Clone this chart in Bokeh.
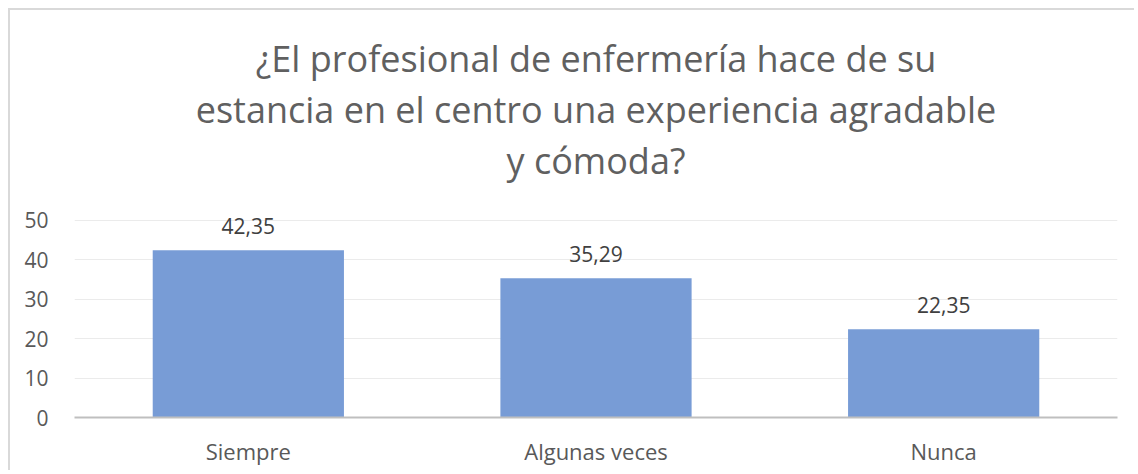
from bokeh.plotting import figure
from bokeh.models import FixedTicker, ColumnDataSource, Title, Range1d
from bokeh.embed import file_html
from bokeh.resources import INLINE
from bokeh.core.properties import value

categories = ["Siempre", "Algunas veces", "Nunca"]
values = [42.35, 35.29, 22.35]
labels = [f"{v:.2f}".replace(".", ",") for v in values]
y_ticks = [0, 10, 20, 30, 40, 50]
title_lines = [
    "¿El profesional de enfermería hace de su",
    "estancia en el centro una experiencia agradable",
    "y cómoda?",
]

FONT = "Open Sans"

src = ColumnDataSource(dict(cat=categories, val=values, lab=labels))

p = figure(
    x_range=categories, y_range=Range1d(0, 59),
    width=1126, height=462,
    output_backend="svg", toolbar_location=None,
    min_border_left=64, min_border_right=19,
    min_border_top=174, min_border_bottom=55,
)
p.styles = {"margin-left": "8px", "margin-top": "8px",
            "border-left": "2px solid #d9d9d9", "border-top": "2px solid #d9d9d9"}
p.outline_line_color = None

# add lines nearest-to-frame first
for line in reversed(title_lines):
    t = Title(text=line, align="center", text_font=FONT, text_font_size="36px",
              text_color="#606060", text_font_style="normal", text_line_height=1.04,
              standoff=0)
    p.add_layout(t, "above")

p.vbar(x="cat", top="val", width=0.55, source=src, fill_color="#789cd6", line_color=None)
p.text(x="cat", y="val", text="lab", source=src, y_offset=-24,
       text_align="center", text_baseline="middle",
       text_font=value(FONT), text_font_size="21px", text_color="#404040")

p.yaxis.ticker = FixedTicker(ticks=y_ticks)
p.yaxis.axis_line_color = None
p.yaxis.major_tick_line_color = None
p.yaxis.minor_tick_line_color = None
p.yaxis.major_label_text_font = FONT
p.yaxis.major_label_text_font_size = "21px"
p.yaxis.major_label_text_color = "#595959"
p.yaxis.major_label_standoff = 20

p.xaxis.axis_line_color = "#bfbfbf"
p.xaxis.axis_line_width = 2
p.xaxis.major_tick_line_color = None
p.xaxis.major_label_text_font = FONT
p.xaxis.major_label_text_font_size = "22px"
p.xaxis.major_label_text_color = "#595959"
p.xaxis.major_label_standoff = 12

p.xgrid.grid_line_color = None
p.ygrid.grid_line_color = "#ebebeb"
p.ygrid.grid_line_width = 1
p.x_range.range_padding = 0

open("out.html", "w").write(file_html(p, INLINE))
